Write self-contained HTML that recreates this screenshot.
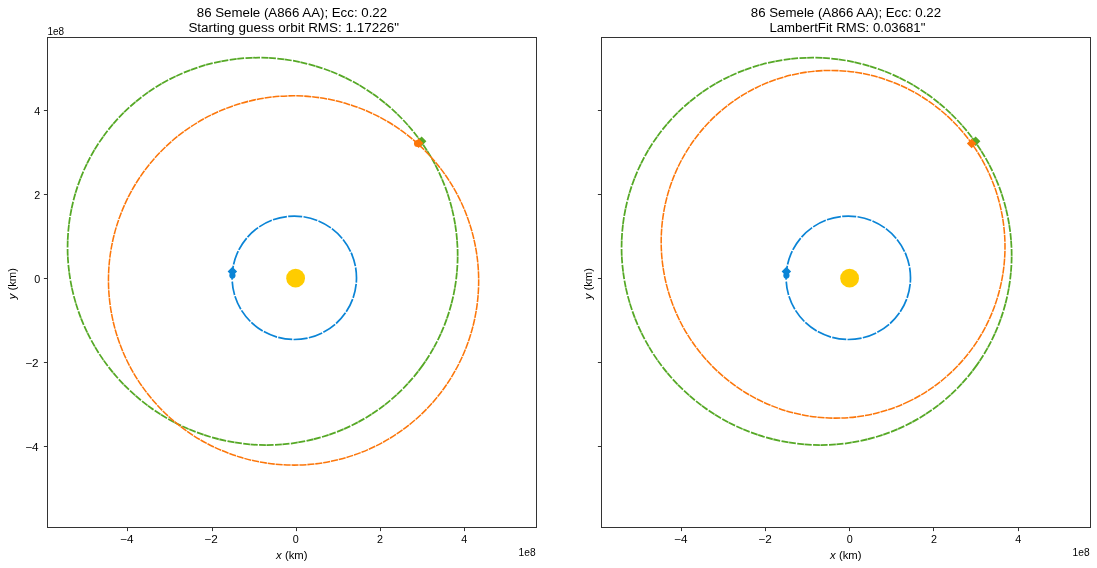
<!DOCTYPE html>
<html><head><meta charset="utf-8"><title>86 Semele orbit fit</title>
<style>html,body{margin:0;padding:0;background:#fff;}svg{display:block;}svg{will-change:transform;}text{filter:grayscale(1);}</style></head>
<body>
<svg width="1097" height="568" viewBox="0 0 1097 568" font-family="Liberation Sans, sans-serif" fill="#000">
<rect width="1097" height="568" fill="#fff"/>
<clipPath id="c0"><rect x="47.5" y="37.5" width="489.0" height="490.0"/></clipPath>
<g clip-path="url(#c0)">
<circle cx="295.60" cy="278.20" r="9.4" fill="#ffcc00"/>
<ellipse cx="294.30" cy="277.80" rx="62.20" ry="61.70" transform="rotate(0.00 294.30 277.80)" fill="none" stroke="#0a84d6" stroke-width="1.7" stroke-dasharray="14.2 1.3" stroke-dashoffset="-6.25"/>
<path d="M232.15 279.9L232.30 281.5" stroke="#fff" stroke-width="3" fill="none"/>
<circle cx="232.40" cy="275.40" r="3.1" fill="#0a84d6"/>
<path d="M227.65 271.40L232.40 266.65L237.15 271.40L232.40 276.15Z" fill="#0a84d6"/>
<ellipse cx="262.62" cy="251.38" rx="196.45" ry="192.25" transform="rotate(35.47 262.62 251.38)" fill="none" stroke="#55a825" stroke-width="1.75" stroke-dasharray="14.5 1.4" stroke-dashoffset="0"/>
<ellipse cx="262.62" cy="251.38" rx="196.45" ry="192.25" transform="rotate(35.47 262.62 251.38)" fill="none" stroke="rgba(255,255,255,0.5)" stroke-width="2.6" stroke-dasharray="1.2 14.7" stroke-dashoffset="-6.65"/>
<path d="M416.85 141.20L421.60 136.45L426.35 141.20L421.60 145.95Z" fill="#55a825"/>
<ellipse cx="293.57" cy="280.46" rx="185.15" ry="184.60" transform="rotate(16.98 293.57 280.46)" fill="none" stroke="#fc760a" stroke-width="1.55" stroke-dasharray="7.1 0.85" stroke-dashoffset="0"/>
<circle cx="417.60" cy="143.50" r="3.6" fill="#fc760a"/>
<path d="M413.85 143.20L418.60 138.45L423.35 143.20L418.60 147.95Z" fill="#fc760a"/>
</g>
<rect x="47.5" y="37.5" width="489.0" height="490.0" fill="none" stroke="#333333" stroke-width="1"/>
<path d="M127.5 527.5V531.1" stroke="#333333" stroke-width="1"/>
<path d="M212.5 527.5V531.1" stroke="#333333" stroke-width="1"/>
<path d="M296.5 527.5V531.1" stroke="#333333" stroke-width="1"/>
<path d="M380.5 527.5V531.1" stroke="#333333" stroke-width="1"/>
<path d="M464.5 527.5V531.1" stroke="#333333" stroke-width="1"/>
<path d="M47.5 110.5H43.9" stroke="#333333" stroke-width="1"/>
<path d="M47.5 194.5H43.9" stroke="#333333" stroke-width="1"/>
<path d="M47.5 278.5H43.9" stroke="#333333" stroke-width="1"/>
<path d="M47.5 362.5H43.9" stroke="#333333" stroke-width="1"/>
<path d="M47.5 446.5H43.9" stroke="#333333" stroke-width="1"/>
<text x="133.50" y="542.90" font-size="10.3" text-anchor="end" textLength="13.4" lengthAdjust="spacingAndGlyphs">−4</text>
<text x="217.70" y="542.90" font-size="10.3" text-anchor="end" textLength="13.4" lengthAdjust="spacingAndGlyphs">−2</text>
<text x="295.80" y="542.90" font-size="10.3" text-anchor="middle" textLength="6.0" lengthAdjust="spacingAndGlyphs">0</text>
<text x="380.00" y="542.90" font-size="10.3" text-anchor="middle" textLength="6.0" lengthAdjust="spacingAndGlyphs">2</text>
<text x="464.20" y="542.90" font-size="10.3" text-anchor="middle" textLength="6.0" lengthAdjust="spacingAndGlyphs">4</text>
<text x="535.60" y="555.70" font-size="10.3" text-anchor="end" textLength="17.0" lengthAdjust="spacingAndGlyphs">1e8</text>
<text x="276.10" y="558.5" font-size="10.3" textLength="31.4" lengthAdjust="spacingAndGlyphs"><tspan font-style="italic">x</tspan> (km)</text>
<text transform="translate(16.00 299.3) rotate(-90)" font-size="10.3" textLength="31.2" lengthAdjust="spacingAndGlyphs"><tspan font-style="italic">y</tspan> (km)</text>
<text x="40.20" y="114.80" font-size="10.3" text-anchor="end" textLength="6.0" lengthAdjust="spacingAndGlyphs">4</text>
<text x="40.20" y="198.80" font-size="10.3" text-anchor="end" textLength="6.0" lengthAdjust="spacingAndGlyphs">2</text>
<text x="40.20" y="282.80" font-size="10.3" text-anchor="end" textLength="6.0" lengthAdjust="spacingAndGlyphs">0</text>
<text x="38.55" y="366.80" font-size="10.3" text-anchor="end" textLength="13.4" lengthAdjust="spacingAndGlyphs">−2</text>
<text x="38.55" y="450.80" font-size="10.3" text-anchor="end" textLength="13.4" lengthAdjust="spacingAndGlyphs">−4</text>
<text x="47.50" y="34.80" font-size="10.3" text-anchor="start" textLength="16.6" lengthAdjust="spacingAndGlyphs">1e8</text>
<text x="196.80" y="16.80" font-size="12.3" text-anchor="start" textLength="190.3" lengthAdjust="spacingAndGlyphs">86 Semele (A866 AA); Ecc: 0.22</text>
<text x="188.40" y="31.70" font-size="12.3" text-anchor="start" textLength="210.6" lengthAdjust="spacingAndGlyphs">Starting guess orbit RMS: 1.17226"</text>
<clipPath id="c554"><rect x="601.5" y="37.5" width="489.0" height="490.0"/></clipPath>
<g clip-path="url(#c554)">
<circle cx="849.60" cy="278.20" r="9.4" fill="#ffcc00"/>
<ellipse cx="848.30" cy="277.80" rx="62.20" ry="61.70" transform="rotate(0.00 848.30 277.80)" fill="none" stroke="#0a84d6" stroke-width="1.7" stroke-dasharray="14.2 1.3" stroke-dashoffset="-6.25"/>
<path d="M786.15 279.9L786.30 281.5" stroke="#fff" stroke-width="3" fill="none"/>
<circle cx="786.40" cy="275.40" r="3.1" fill="#0a84d6"/>
<path d="M781.65 271.40L786.40 266.65L791.15 271.40L786.40 276.15Z" fill="#0a84d6"/>
<ellipse cx="816.62" cy="251.38" rx="196.45" ry="192.25" transform="rotate(35.47 816.62 251.38)" fill="none" stroke="#55a825" stroke-width="1.75" stroke-dasharray="14.5 1.4" stroke-dashoffset="0"/>
<ellipse cx="816.62" cy="251.38" rx="196.45" ry="192.25" transform="rotate(35.47 816.62 251.38)" fill="none" stroke="rgba(255,255,255,0.5)" stroke-width="2.6" stroke-dasharray="1.2 14.7" stroke-dashoffset="-6.65"/>
<path d="M970.85 141.20L975.60 136.45L980.35 141.20L975.60 145.95Z" fill="#55a825"/>
<ellipse cx="833.09" cy="244.29" rx="174.45" ry="171.30" transform="rotate(64.05 833.09 244.29)" fill="none" stroke="#fc760a" stroke-width="1.55" stroke-dasharray="7.1 0.85" stroke-dashoffset="0"/>
<path d="M966.85 143.40L971.60 138.65L976.35 143.40L971.60 148.15Z" fill="#fc760a"/>
</g>
<rect x="601.5" y="37.5" width="489.0" height="490.0" fill="none" stroke="#333333" stroke-width="1"/>
<path d="M681.5 527.5V531.1" stroke="#333333" stroke-width="1"/>
<path d="M765.5 527.5V531.1" stroke="#333333" stroke-width="1"/>
<path d="M849.5 527.5V531.1" stroke="#333333" stroke-width="1"/>
<path d="M933.5 527.5V531.1" stroke="#333333" stroke-width="1"/>
<path d="M1018.5 527.5V531.1" stroke="#333333" stroke-width="1"/>
<path d="M601.5 110.5H597.9" stroke="#333333" stroke-width="1"/>
<path d="M601.5 194.5H597.9" stroke="#333333" stroke-width="1"/>
<path d="M601.5 278.5H597.9" stroke="#333333" stroke-width="1"/>
<path d="M601.5 362.5H597.9" stroke="#333333" stroke-width="1"/>
<path d="M601.5 446.5H597.9" stroke="#333333" stroke-width="1"/>
<text x="687.50" y="542.90" font-size="10.3" text-anchor="end" textLength="13.4" lengthAdjust="spacingAndGlyphs">−4</text>
<text x="771.70" y="542.90" font-size="10.3" text-anchor="end" textLength="13.4" lengthAdjust="spacingAndGlyphs">−2</text>
<text x="849.80" y="542.90" font-size="10.3" text-anchor="middle" textLength="6.0" lengthAdjust="spacingAndGlyphs">0</text>
<text x="934.00" y="542.90" font-size="10.3" text-anchor="middle" textLength="6.0" lengthAdjust="spacingAndGlyphs">2</text>
<text x="1018.20" y="542.90" font-size="10.3" text-anchor="middle" textLength="6.0" lengthAdjust="spacingAndGlyphs">4</text>
<text x="1089.60" y="555.70" font-size="10.3" text-anchor="end" textLength="17.0" lengthAdjust="spacingAndGlyphs">1e8</text>
<text x="830.10" y="558.5" font-size="10.3" textLength="31.4" lengthAdjust="spacingAndGlyphs"><tspan font-style="italic">x</tspan> (km)</text>
<text transform="translate(592.20 299.3) rotate(-90)" font-size="10.3" textLength="31.2" lengthAdjust="spacingAndGlyphs"><tspan font-style="italic">y</tspan> (km)</text>
<text x="750.80" y="16.80" font-size="12.3" text-anchor="start" textLength="190.3" lengthAdjust="spacingAndGlyphs">86 Semele (A866 AA); Ecc: 0.22</text>
<text x="769.40" y="31.70" font-size="12.3" text-anchor="start" textLength="156.0" lengthAdjust="spacingAndGlyphs">LambertFit RMS: 0.03681"</text>
</svg>
</body></html>
